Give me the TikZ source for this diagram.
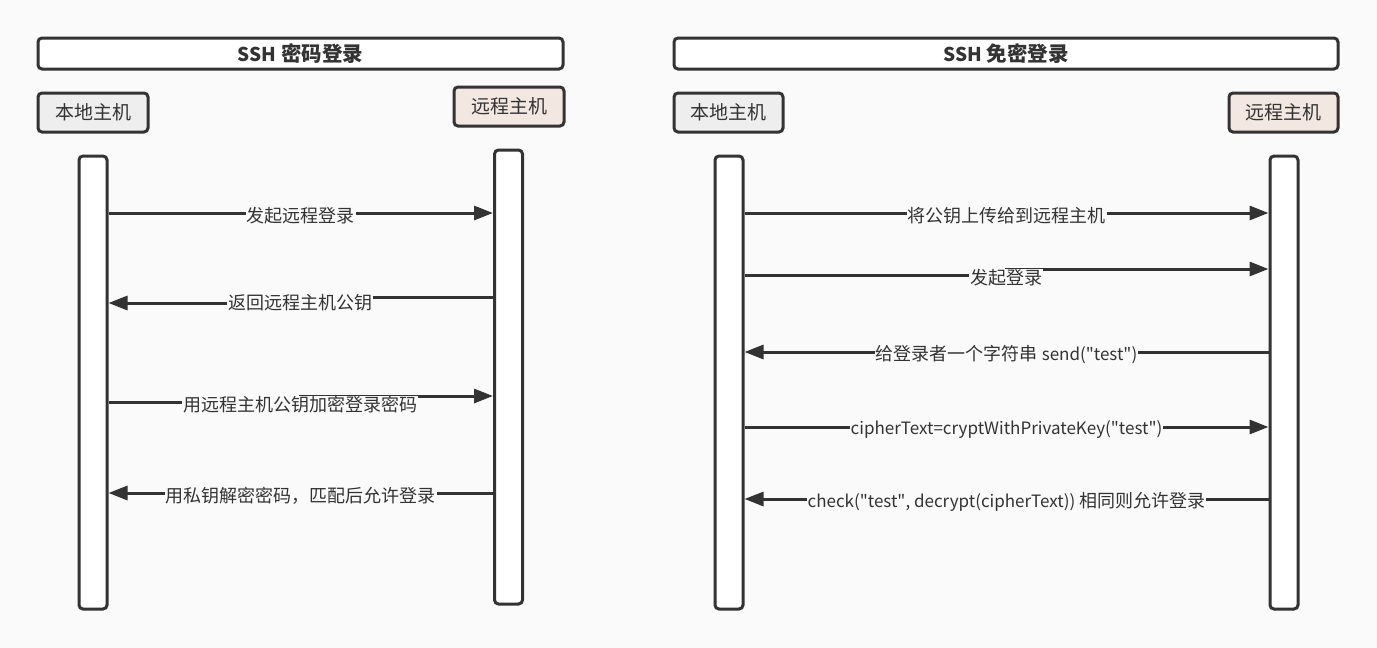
\documentclass[tikz,border=0pt]{standalone}
\usepackage{fontspec}
\setmainfont{Noto Sans CJK SC}
\usepackage{xcolor}
\usepackage{tikz}
\usetikzlibrary{arrows.meta}

\definecolor{bg}{HTML}{FAFAFA}
\definecolor{ink}{HTML}{333333}
\definecolor{localfill}{HTML}{EEEEEE}
\definecolor{remotefill}{HTML}{F3E7E2}
% latin parts are set a little smaller than the CJK text
\newcommand{\lat}[1]{{\fontsize{17}{18}\selectfont #1}}
\newcommand{\qt}[1]{\textquotedbl #1\textquotedbl}

\begin{document}
\begin{tikzpicture}[x=1pt,y=-1pt,
                    line width=3pt,
                    title/.style={draw=ink,fill=white,
                    minimum width=#1pt,minimum height=31pt,
                    rounded corners=4pt,inner sep=0pt,text=ink,
                    font=\bfseries\fontsize{20.5}{22}\selectfont},
                    host/.style n args={2}{draw=ink,fill=#1,
                    minimum width=#2pt,minimum height=39pt,
                    rounded corners=4pt,inner sep=0pt,text=ink,
                    font=\fontsize{19}{20}\selectfont},
                    life/.style={draw=ink,fill=white,
                    minimum width=28pt,minimum height=#1pt,
                    rounded corners=4pt},
                    msg/.style={draw=ink,-{Triangle[length=19pt,width=14pt]}},
                    lbl/.style={fill=bg,inner sep=1pt,yshift=-3pt,text=ink,
                    font=\fontsize{18}{20}\selectfont}]
    \useasboundingbox[fill=bg] (0,0) rectangle (1377,648);

    % SSH password login
    \node[title=525](titleA) at (300.5,53.5) {\lat{\fontsize{19}{20}\selectfont\bfseries SSH} 密码登录};
    \node[host={localfill}{110}](localA) at (93,112.5) {本地主机};
    \node[host={remotefill}{110}](remoteA) at (509,106.5) {远程主机};
    \node[life=453](lineLA) at (93,382.5) {};
    \node[life=454](lineRA) at (508.5,377) {};

    \draw[msg] (lineLA.east |- 0,213) -- node[lbl]{发起远程登录} (lineRA.west |- 0,213);
    \draw[msg] (lineRA.west |- 0,297) -- (300,297) -- (300,303) -- (lineLA.east |- 0,303);
    \node[lbl](mA2) at (300,300) {返回远程主机公钥};
    \draw[msg] (lineLA.east |- 0,402) -- (300,402) -- (300,396) -- (lineRA.west |- 0,396);
    \node[lbl](mA3) at (300,402) {用远程主机公钥加密登录密码};
    \draw[msg] (lineRA.west |- 0,493) -- node[lbl]{用私钥解密密码，匹配后允许登录} (lineLA.east |- 0,493);

    % SSH key login
    \node[title=664](titleB) at (1006,53.5) {\lat{\fontsize{19}{20}\selectfont\bfseries SSH} 免密登录};
    \node[host={localfill}{109}](localB) at (728.5,112.5) {本地主机};
    \node[host={remotefill}{109}](remoteB) at (1283.5,112.5) {远程主机};
    \node[life=453](lineLB) at (729,382.5) {};
    \node[life=453](lineRB) at (1284,382.5) {};

    \draw[msg] (lineLB.east |- 0,213) -- node[lbl]{将公钥上传给到远程主机} (lineRB.west |- 0,213);
    \draw[msg] (lineLB.east |- 0,275) -- (1006,275) -- (1006,269) -- (lineRB.west |- 0,269);
    \node[lbl](mB2) at (1006,275) {发起登录};
    \draw[msg] (lineRB.west |- 0,352) -- node[lbl]{给登录者一个字符串 \lat{send(\qt{test})}} (lineLB.east |- 0,352);
    \draw[msg] (lineLB.east |- 0,427) -- node[lbl]{\lat{cipherText=cryptWithPrivateKey(\qt{test})}} (lineRB.west |- 0,427);
    \draw[msg] (lineRB.west |- 0,499) -- node[lbl]{\lat{check(\qt{test}, decrypt(cipherText))} 相同则允许登录} (lineLB.east |- 0,499);

\end{tikzpicture}
\end{document}
